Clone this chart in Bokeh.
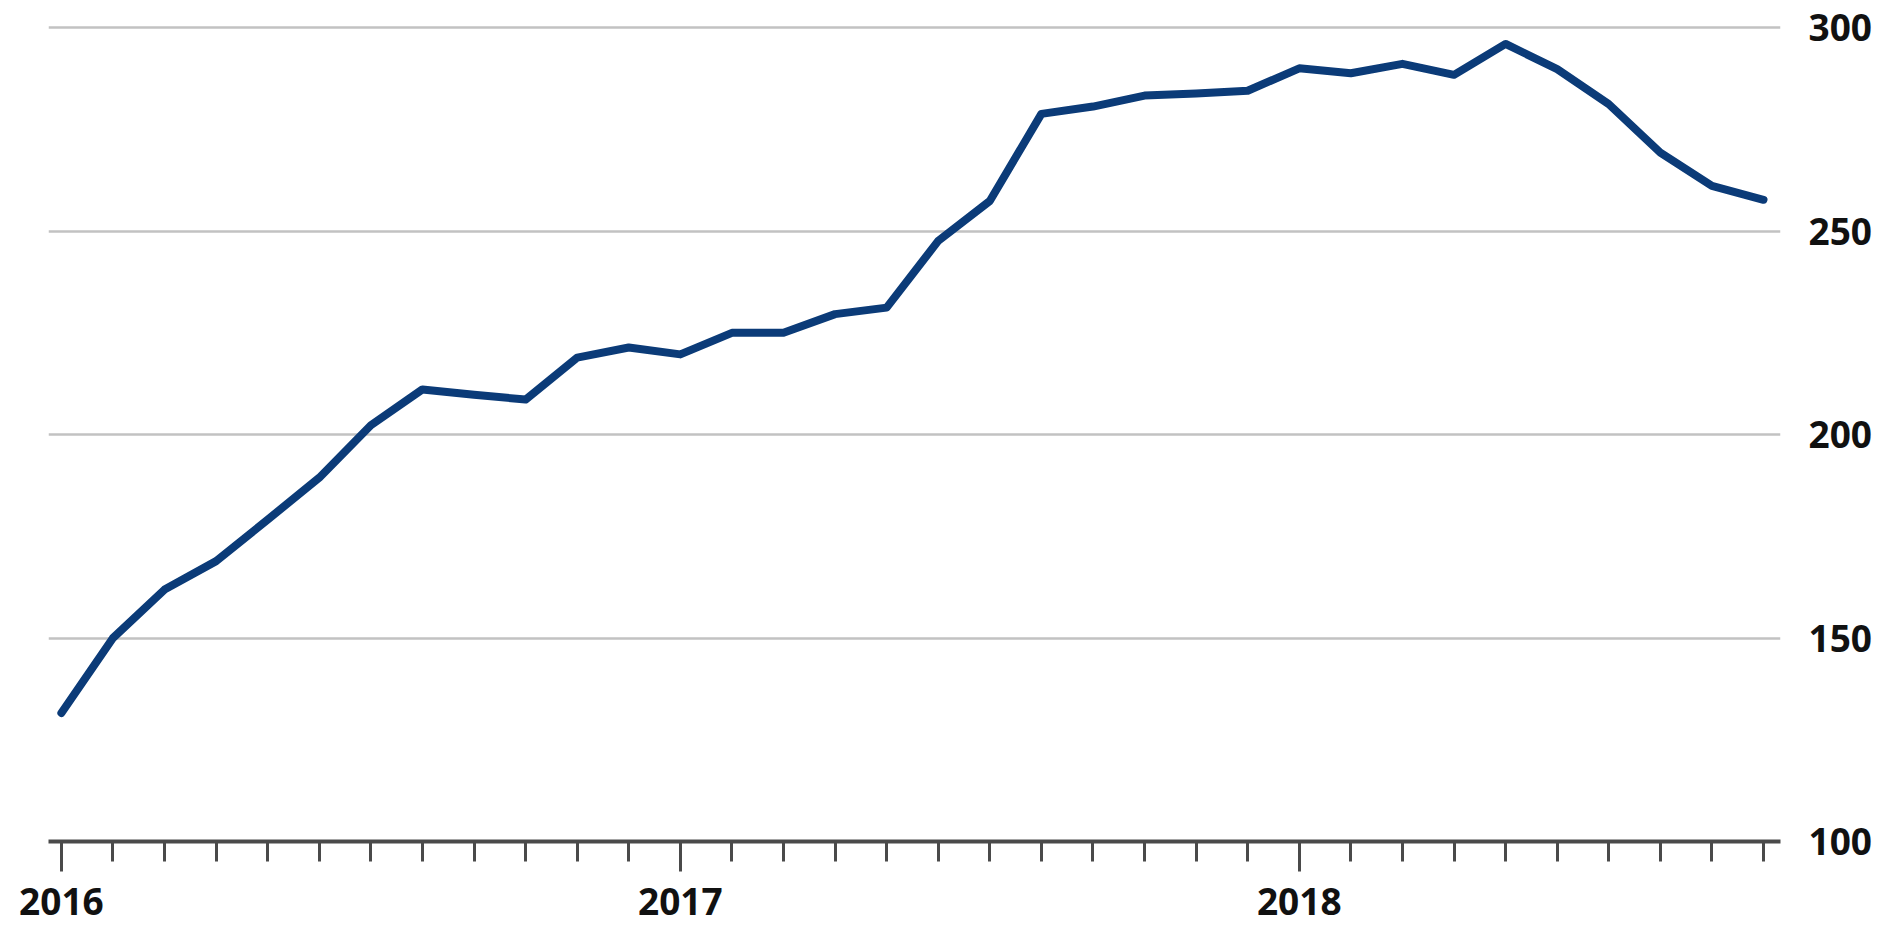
from bokeh.plotting import figure
from bokeh.models import FixedTicker, Range1d, ColumnDataSource
from bokeh.embed import file_html
from bokeh.resources import INLINE

# Monthly index, January 2016 to October 2018
months = [
    "2016-01", "2016-02", "2016-03", "2016-04", "2016-05", "2016-06",
    "2016-07", "2016-08", "2016-09", "2016-10", "2016-11", "2016-12",
    "2017-01", "2017-02", "2017-03", "2017-04", "2017-05", "2017-06",
    "2017-07", "2017-08", "2017-09", "2017-10", "2017-11", "2017-12",
    "2018-01", "2018-02", "2018-03", "2018-04", "2018-05", "2018-06",
    "2018-07", "2018-08", "2018-09", "2018-10",
]
values = [
    131.6, 150.0, 161.9, 168.9, 179.1, 189.4,
    202.3, 211.1, 209.8, 208.6, 218.9, 221.4,
    219.7, 225.0, 225.0, 229.6, 231.2, 247.6,
    257.4, 278.8, 280.6, 283.3, 283.8, 284.5,
    290.0, 288.8, 291.1, 288.4, 296.0, 289.8,
    281.2, 269.3, 261.1, 257.7,
]
year_labels = ["2016", "2017", "2018"]
y_ticks = [100, 150, 200, 250, 300]

idx = list(range(len(months)))
year_starts = [i for i, m in enumerate(months) if m.endswith("-01")]

src = ColumnDataSource(dict(x=idx, y=values, month=months))

p = figure(
    width=1880, height=927,
    output_backend="svg", toolbar_location=None,
    x_range=Range1d(-0.25, len(months) - 1 + 0.33),
    y_range=Range1d(100, 302),
    y_axis_location="right",
    min_border_left=48, min_border_right=100,
    min_border_top=19, min_border_bottom=86,
)
p.outline_line_color = None
p.background_fill_color = "white"
p.border_fill_color = "white"

p.line("x", "y", source=src, line_color="#0b3b78", line_width=8,
       line_join="round", line_cap="round")

# horizontal grid only
p.xgrid.grid_line_color = None
p.ygrid.ticker = FixedTicker(ticks=y_ticks)
p.ygrid.grid_line_color = "#c2c2c2"
p.ygrid.grid_line_width = 2.5

font = "Open Sans"

# right value axis
ya = p.yaxis[0]
ya.ticker = FixedTicker(ticks=y_ticks)
ya.axis_line_color = None
ya.major_tick_line_color = None
ya.minor_tick_line_color = None
ya.major_label_standoff = 22
ya.major_label_text_font = font
ya.major_label_text_font_size = "37px"
ya.major_label_text_font_style = "bold"
ya.major_label_text_color = "#111111"

# bottom time axis: long ticks at each January, short ticks each month
xa = p.xaxis[0]
xa.ticker = FixedTicker(ticks=year_starts, minor_ticks=idx)
xa.major_label_overrides = {i: lab for i, lab in zip(year_starts, year_labels)}
xa.axis_line_color = "#4a4a4a"
xa.axis_line_width = 4
xa.major_tick_line_color = "#4a4a4a"
xa.major_tick_line_width = 3
xa.major_tick_in = 0
xa.major_tick_out = 30
xa.minor_tick_line_color = "#4a4a4a"
xa.minor_tick_line_width = 3
xa.minor_tick_in = 0
xa.minor_tick_out = 20
xa.major_label_standoff = 16
xa.major_label_text_font = font
xa.major_label_text_font_size = "37px"
xa.major_label_text_font_style = "bold"
xa.major_label_text_color = "#111111"

open("out.html", "w").write(file_html(p, INLINE))
